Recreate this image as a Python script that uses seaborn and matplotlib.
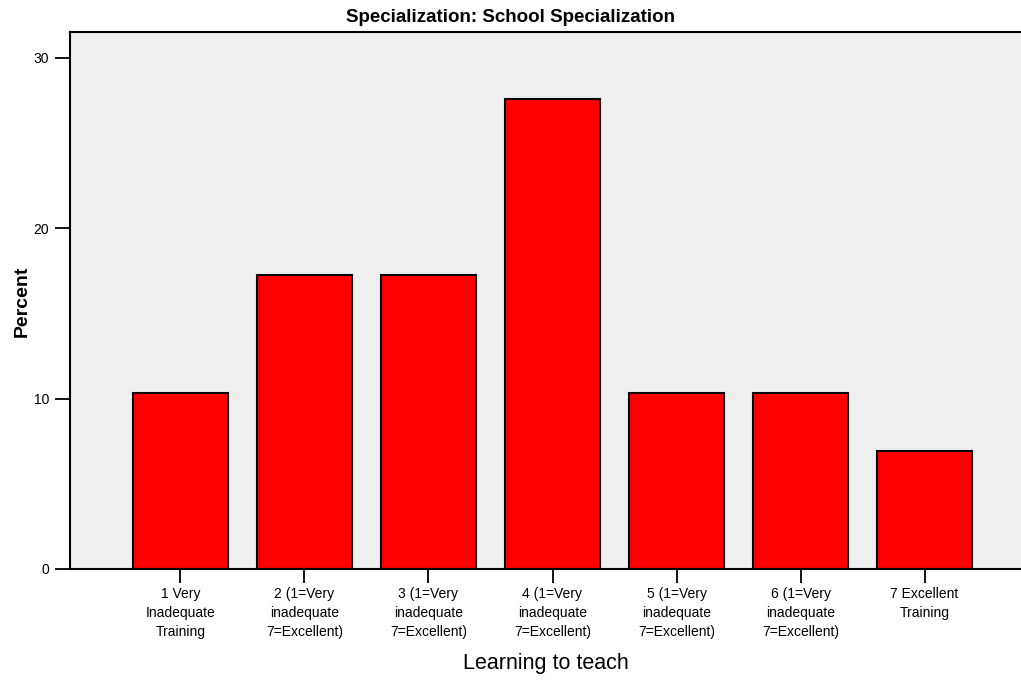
import matplotlib
matplotlib.use("Agg")
import matplotlib.pyplot as plt
import seaborn as sns
import pandas as pd

categories = [
    "1 Very\nInadequate\nTraining",
    "2 (1=Very\ninadequate\n7=Excellent)",
    "3 (1=Very\ninadequate\n7=Excellent)",
    "4 (1=Very\ninadequate\n7=Excellent)",
    "5 (1=Very\ninadequate\n7=Excellent)",
    "6 (1=Very\ninadequate\n7=Excellent)",
    "7 Excellent\nTraining",
]
percents = [10.34, 17.24, 17.24, 27.59, 10.34, 10.34, 6.90]
yticks = [0, 10, 20, 30]

sns.set_theme(style="white")
plt.rcParams["font.family"] = ["Liberation Sans", "DejaVu Sans"]
plt.rcParams["text.color"] = "black"
plt.rcParams["axes.labelcolor"] = "black"
plt.rcParams["xtick.color"] = "black"
plt.rcParams["ytick.color"] = "black"

df = pd.DataFrame({"cat": categories, "pct": percents})

fig = plt.figure(figsize=(10.21, 6.82), dpi=100)
ax = fig.add_axes([70/1021, 113/682, 965/1021, 537/682])
ax.set_facecolor("#efefef")
sns.barplot(data=df, x="cat", y="pct", color="#ff0000", saturation=1,
            edgecolor="black", linewidth=1.5, width=0.76, ax=ax)
ax.set_xlim(-0.89, 6.89)
ax.set_ylim(0, 31.5)
ax.set_yticks(yticks)
ax.set_yticklabels([str(t) for t in yticks])

for s in ["left", "bottom", "top"]:
    ax.spines[s].set_visible(True)
    ax.spines[s].set_color("black")
    ax.spines[s].set_linewidth(1.5)
ax.spines["right"].set_visible(False)

ax.tick_params(axis="x", which="both", bottom=True, length=10, width=1.3,
               color="black", labelsize=10, pad=3)
ax.tick_params(axis="y", which="both", left=True, length=11, width=1.3,
               color="black", labelsize=10, pad=4)
for lbl in ax.get_xticklabels():
    lbl.set_linespacing(1.45)

ax.set_xlabel("Learning to teach", fontsize=15.5)
ax.xaxis.set_label_coords((546 - 70) / 965, (569 - 653) / 537)
ax.set_ylabel("Percent", fontsize=14, fontweight="bold", va="center")
ax.yaxis.set_label_coords((22 - 70) / 965, (569 - 301) / 537)
fig.text(510/1021, 1 - 17/682, "Specialization: School Specialization",
         fontsize=13.5, fontweight="bold", ha="center", va="center")

fig.savefig("out.png", dpi=100)
